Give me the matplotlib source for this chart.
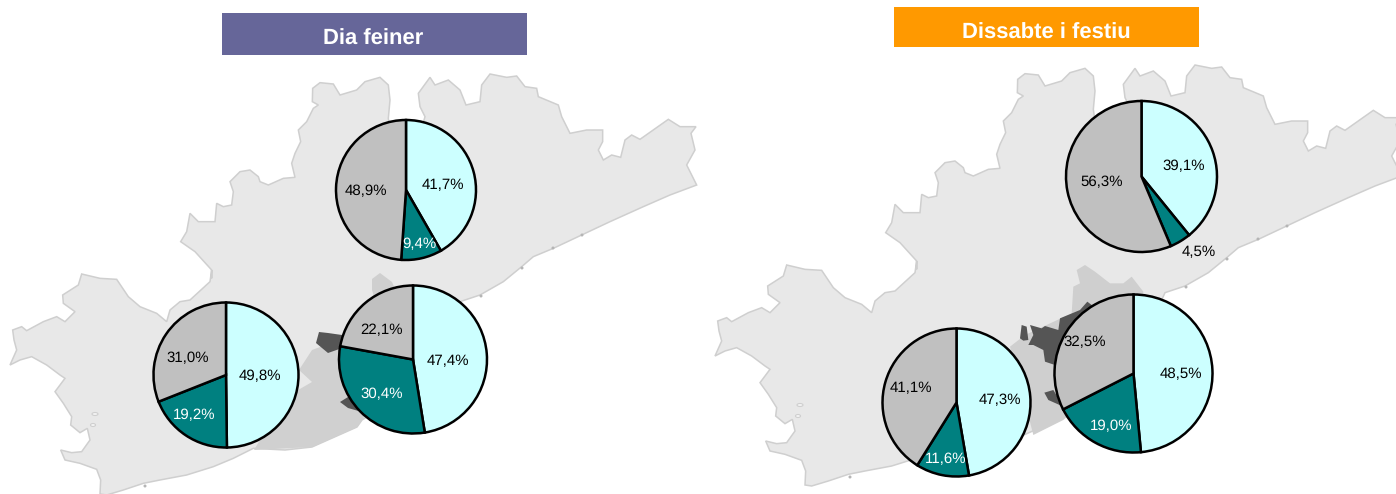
import numpy as np
import matplotlib
matplotlib.use('Agg')
import matplotlib.pyplot as plt
from matplotlib.patches import Polygon, Rectangle, Ellipse

W = 1396
H = 494

plt.rcParams['font.family'] = ['Liberation Sans', 'DejaVu Sans']
plt.rcParams['text.hinting'] = 'no_hinting'
plt.rcParams['text.hinting_factor'] = 1

# valors de cada pastis, ordre: cian, verd, gris
feiner_titol = 'Dia feiner'
feiner_dalt = [41.7, 9.4, 48.9]
feiner_esq = [49.8, 19.2, 31.0]
feiner_dre = [47.4, 30.4, 22.1]

festiu_titol = 'Dissabte i festiu'
festiu_dalt = [39.1, 4.5, 56.3]
festiu_esq = [47.3, 11.6, 41.1]
festiu_dre = [48.5, 19.0, 32.5]

colors = ['#CCFFFF', '#008080', '#C0C0C0']

# centre x, centre y, radi (pixels de la imatge)
geom_feiner = [(406, 190, 70), (226, 375, 72.5), (413, 359.5, 74)]
geom_festiu = [(1141.5, 176.5, 75.5), (956.5, 402.5, 74), (1133.5, 373.5, 79)]

# posicio de cada etiqueta i color del text
pos_feiner = [[(443, 185), (419, 244), (366, 191)],
              [(260, 376), (194, 415), (188, 358)],
              [(448, 361), (382, 394), (382, 330)]]
pos_festiu = [[(1184, 166), (1199, 252), (1102, 182)],
              [(1000, 400), (946, 459), (911, 388)],
              [(1181, 374), (1111, 426), (1085, 342)]]
text_feiner = [['black', 'white', 'black']] * 3
text_festiu = [['black', 'black', 'black'], ['black', 'white', 'black'], ['black', 'white', 'black']]

# contorn del mapa, trams llegits dels retalls a 3x
tram_sud = np.array([
    (760, 535), (700, 565), (640, 590), (560, 615), (480, 630), (430, 640), (370, 660), (320, 675),
    (300, 672), (302, 630), (290, 598), (240, 580), (195, 570), (182, 540), (215, 548), (245, 545),
    (270, 510), (262, 475), (240, 488), (212, 465), (215, 440), (190, 400), (165, 365), (195, 325),
    (180, 315), (140, 285), (95, 260), (60, 270), (30, 285), (50, 240), (42, 210), (38, 180),
    (65, 170), (80, 182), (130, 155), (170, 140), (195, 155), (225, 125), (190, 100), (188, 75),
    (235, 45), (245, 12), (300, 25), (350, 28), (385, 80), (420, 110), (470, 130), (500, 155),
    (510, 120), (540, 95), (570, 90), (630, 35), (635, 0),
], dtype=float)
tram_nord = np.array([
    (125, 625), (125, 600), (75, 545), (32, 515), (50, 485), (60, 430), (85, 455), (135, 455),
    (140, 400), (160, 410), (185, 405), (190, 365), (180, 335), (210, 305), (240, 300), (265, 320),
    (270, 335), (295, 345), (340, 325), (375, 322), (365, 280), (375, 250), (392, 215), (385, 180),
    (410, 155), (430, 115), (445, 105), (427, 95), (428, 55), (450, 38), (490, 42), (510, 75),
    (560, 60), (585, 35), (630, 22), (655, 45), (660, 90), (655, 145), (690, 400),
], dtype=float)
tram_est = np.array([
    (45, 140), (30, 110), (25, 70), (60, 22), (75, 45), (115, 30), (150, 60), (168, 105),
    (210, 95), (215, 45), (240, 12), (290, 22), (320, 18), (345, 50), (380, 55), (385, 80),
    (445, 105), (455, 140), (480, 190), (530, 180), (578, 180), (578, 215), (565, 240), (580, 270),
    (605, 255), (632, 262), (645, 210), (665, 195), (690, 208), (775, 148), (810, 170), (858, 170),
    (843, 190), (855, 240), (830, 285), (860, 345), (780, 375), (700, 410), (600, 455), (515, 495),
    (430, 535), (370, 560), (335, 590), (280, 635), (210, 675), (150, 695),
], dtype=float)
tram_costa = [(425, 380), (362, 420), (357, 427), (312, 447), (285, 450)]

illots = [(95, 414, 6, 3), (93, 425, 5, 3)]
punts_costa = [(582, 235), (553, 248), (522, 268), (481, 296), (145, 486)]

# zones fosques mapa esquerre (pixels)
gris_feiner = [(299, 370), (312, 350), (339, 340), (402, 360), (362, 420), (357, 427), (312, 447), (254, 450),
               (286, 397), (312, 382)]
lobul_feiner = [(372, 290), (372, 279), (380, 273), (392, 282), (400, 300), (375, 300)]
fosc_feiner = [
    [(316, 343), (319, 332), (328, 333), (342, 335), (345, 347), (328, 353)],
    [(340, 402), (348, 397), (357, 400), (362, 412), (348, 408)],
]

# zones fosques mapa dret, retall (1000, 250) a 3x
gris_festiu = np.array([(30, 290), (75, 255), (215, 190), (220, 110), (240, 100), (230, 60), (255, 45), (285, 65),
                        (330, 100), (370, 100), (395, 80), (430, 125), (420, 300), (190, 510), (100, 555),
                        (60, 400)], dtype=float)
fosc_festiu = [
    np.array([(60, 265), (65, 225), (80, 230), (85, 270), (70, 272)], dtype=float),
    np.array([(90, 225), (125, 235), (135, 228), (175, 240), (180, 205), (240, 180), (262, 155), (275, 165),
              (300, 250), (165, 345), (135, 335), (130, 300), (100, 285), (85, 285), (100, 255)], dtype=float),
    np.array([(133, 428), (160, 420), (175, 445), (190, 470), (145, 450)], dtype=float),
]


def retall(p, x0, y0):
    return np.c_[x0 + p[:, 0] / 3, y0 + p[:, 1] / 3]


contorn = np.vstack([retall(tram_sud, 0, 270), retall(tram_nord, 170, 70), retall(tram_est, 410, 70),
                     np.array(tram_costa, dtype=float)])

fig = plt.figure(figsize=(W / 100, H / 100), dpi=100)
ax = fig.add_axes([0, 0, 1, 1])


def poli(xy, color, edge='none', dx=0, dy=0):
    xy = np.asarray(xy, dtype=float)
    ax.add_patch(Polygon(np.c_[xy[:, 0] + dx, H - (xy[:, 1] + dy)], closed=True, facecolor=color,
                         edgecolor=edge, linewidth=1.1, zorder=0.5))


def petits(dx, dy):
    for x, y, a, b in illots:
        ax.add_patch(Ellipse((x + dx, H - y - dy), a, b, facecolor='#F4F4F4', edgecolor='#CFCFCF', linewidth=0.8,
                             zorder=0.6))
    for x, y in punts_costa:
        ax.add_patch(Ellipse((x + dx, H - y - dy), 3, 3, facecolor='#B5B5B5', edgecolor='none', zorder=0.6))


def pastis(valors, geom, pos, tcol):
    cx, cy, r = geom
    ax.pie(valors, colors=colors, startangle=90, counterclock=False, center=(cx, H - cy), radius=r,
           normalize=True, wedgeprops={'edgecolor': 'black', 'linewidth': 1.8})
    for i, v in enumerate(valors):
        txt = f'{v:.1f}%'.replace('.', ',')
        ax.text(pos[i][0], H - pos[i][1], txt, ha='center', va='center', fontsize=11, color=tcol[i], zorder=5)


# mapes
poli(contorn, '#E8E8E8', '#CFCFCF')
poli(gris_feiner, '#D0D0D0')
poli(lobul_feiner, '#CFCFCF')
for f in fosc_feiner:
    poli(f, '#555555')
petits(0, 0)

poli(contorn, '#E8E8E8', '#CFCFCF', dx=705, dy=-9)
poli(retall(gris_festiu, 1000, 250), '#CFCFCF')
for f in fosc_festiu:
    poli(retall(f, 1000, 250), '#555555')
petits(705, -9)

# pastissos
for vals, g, p, c in zip([feiner_dalt, feiner_esq, feiner_dre], geom_feiner, pos_feiner, text_feiner):
    pastis(vals, g, p, c)
for vals, g, p, c in zip([festiu_dalt, festiu_esq, festiu_dre], geom_festiu, pos_festiu, text_festiu):
    pastis(vals, g, p, c)

# titols
ax.add_patch(Rectangle((222, H - 55), 305, 42, facecolor='#666699', edgecolor='none', zorder=4))
ax.text(373, H - 39, feiner_titol, color='white', fontsize=15.5, fontweight='bold', ha='center', va='center', zorder=5)
ax.add_patch(Rectangle((894, H - 47), 305, 40, facecolor='#FF9900', edgecolor='none', zorder=4))
ax.text(1046, H - 33, festiu_titol, color='white', fontsize=15.5, fontweight='bold', ha='center', va='center', zorder=5)

ax.set_aspect('auto')
ax.set_xlim(0, W)
ax.set_ylim(0, H)
ax.axis('off')

fig.savefig('out.png', dpi=100, facecolor='white')
